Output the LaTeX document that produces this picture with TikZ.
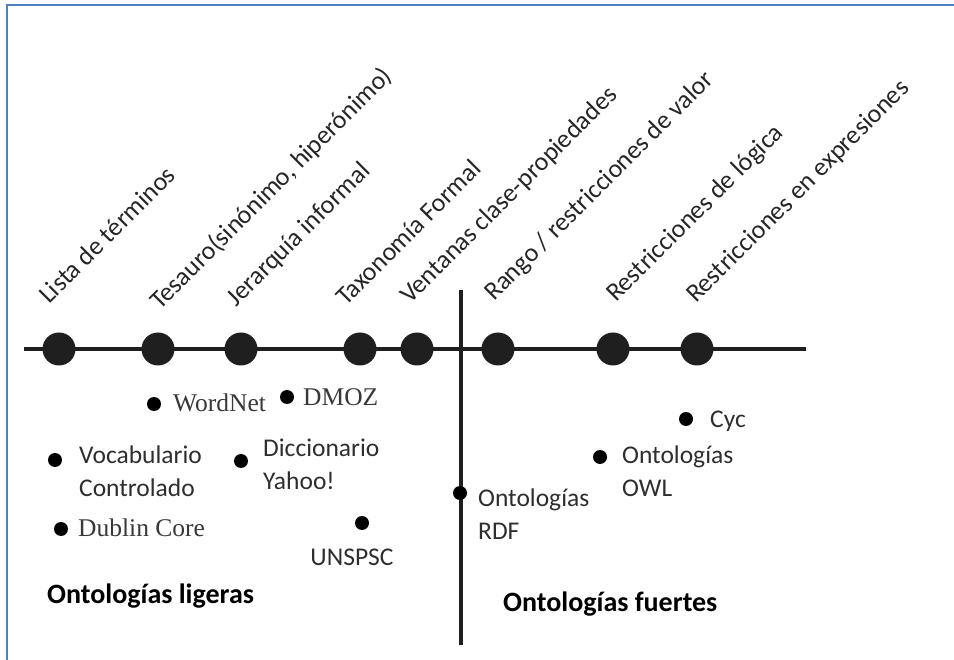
\documentclass[tikz,border=0pt]{standalone}
\usepackage{fontspec}
\setmainfont{Carlito}
\newfontfamily\romana{Liberation Serif}
\usepackage{xcolor}
\definecolor{marco}{RGB}{79,129,189}
\usetikzlibrary{positioning}

\begin{document}
\begin{tikzpicture}[x=1pt, y=-1pt, font=\fontsize{25.5}{32.5}\selectfont,
    hito/.style={circle, fill=black!88, minimum size=33pt, inner sep=0pt},
    punto/.style={circle, fill=black, minimum size=14pt, inner sep=0pt},
    nivel/.style={rotate=45, anchor=base west, inner sep=0pt, text=black!85, font=\fontsize{26}{30}\selectfont},
    ejemplo/.style={anchor=north west, align=left, inner sep=0pt, text=black!82},
    serifa/.style={anchor=west, inner sep=0pt, text=black!78, font=\romana\fontsize{25.5}{30}\selectfont},
    titulo/.style={anchor=base west, inner sep=0pt, font=\fontsize{28}{32}\selectfont\bfseries}]
			\useasboundingbox (0,0) rectangle (954,660);
			\draw[marco, line width=2.5pt] (954,5) -- (7,5) -- (7,660);
			% eje de niveles
			\coordinate (ejeI) at (24,349);
			\coordinate (ejeD) at (806,349);
			\draw[line width=4pt, black!88] (ejeI) -- (ejeD);
			\coordinate (divA) at (461,290);
			\coordinate (divB) at (461,645);
			\draw[line width=4pt, black!88] (divA) -- (divB);
			\node[hito] (lista) at (59,349) {};
			\node[hito] (tesauro) at (158,349) {};
			\node[hito] (jerarquia) at (241,349) {};
			\node[hito] (taxonomia) at (360,349) {};
			\node[hito] (ventanas) at (417,349) {};
			\node[hito] (rango) at (498,349) {};
			\node[hito] (logica) at (613,349) {};
			\node[hito] (expresiones) at (697,349) {};
			% etiquetas inclinadas
			\node[nivel] (tLista) at (49,305) {Lista de términos};
			\node[nivel] (tTesauro) at (160,311) {Tesauro(sinónimo, hiperónimo)};
			\node[nivel] (tJerarquia) at (236,308) {Jerarquía informal};
			\node[nivel] (tTaxonomia) at (346,307) {Taxonomía Formal};
			\node[nivel] (tVentanas) at (410,305) {Ventanas clase-propiedades};
			\node[nivel] (tRango) at (494,302) {Rango / restricciones de valor};
			\node[nivel] (tLogica) at (616,303) {Restricciones de lógica};
			\node[nivel] (tExpresiones) at (696,304) {Restricciones en expresiones};
			% ejemplos
			\node[punto] (pWordnet) at (154,404) {};
			\node[serifa] (wordnet) at (173,403) {WordNet};
			\node[punto] (pDmoz) at (287,397) {};
			\node[serifa] (dmoz) at (303,397) {DMOZ};
			\node[punto] (pVocab) at (55,460) {};
			\node[ejemplo] (vocab) at (79,446) {Vocabulario\\Controlado};
			\node[punto] (pDublin) at (61,529) {};
			\node[serifa] (dublin) at (78,528) {Dublin Core};
			\node[punto] (pDicc) at (241,461) {};
			\node[ejemplo] (dicc) at (263,439) {Diccionario\\Yahoo!};
			\node[punto] (pUnspsc) at (362,523) {};
			\node[inner sep=0pt, text=black!82] (unspsc) at (352,557) {UNSPSC};
			\node[punto] (pRdf) at (460,493) {};
			\node[ejemplo] (rdf) at (478,489) {Ontologías\\RDF};
			\node[punto] (pOwl) at (600,457) {};
			\node[ejemplo] (owl) at (622,446) {Ontologías\\OWL};
			\node[punto] (pCyc) at (686,419) {};
			\node[anchor=west, inner sep=0pt, text=black!82] (cyc) at (710,421) {Cyc};
			% grupos
			\node[titulo] (ligeras) at (47,603) {Ontologías ligeras};
			\node[titulo] (fuertes) at (503,611) {Ontologías fuertes};
\end{tikzpicture}
\end{document}
